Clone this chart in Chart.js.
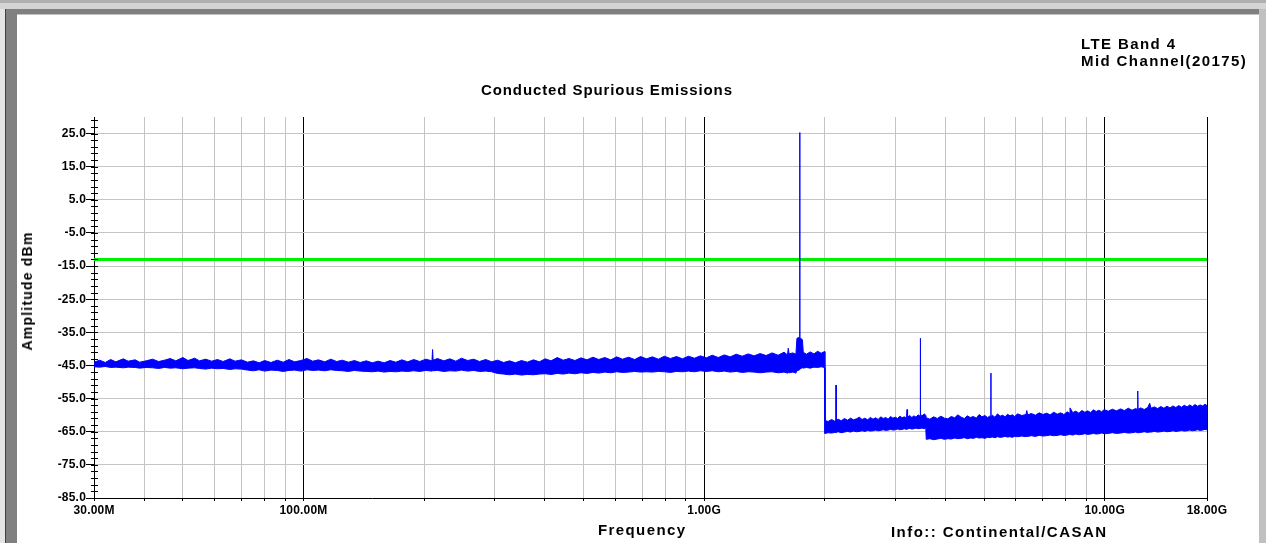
<!DOCTYPE html>
<html>
<head>
<meta charset="utf-8">
<script src="https://cdn.jsdelivr.net/npm/chart.js@4/dist/chart.umd.min.js"></script>
<style>
  html, body { margin: 0; padding: 0; background: #fff; }
  body { width: 1266px; height: 543px; position: relative; overflow: hidden; font-family: "Liberation Sans", Arial, sans-serif; }
  .bar { position: absolute; }
  #chart { position: absolute; left: 0; top: 0; z-index: 2; }
  .txt { position: absolute; z-index: 3; font-weight: bold; font-size: 15px; line-height: 15px; color: #000; white-space: nowrap; }
</style>
</head>
<body>
<!-- window frame -->
<div class="bar" style="left:0;top:0;width:1266px;height:3px;background:#b0b0b0"></div>
<div class="bar" style="left:0;top:3px;width:1266px;height:6px;background:#d4d4d4"></div>
<div class="bar" style="left:0;top:9px;width:1266px;height:5px;background:#808080"></div>
<div class="bar" style="left:0;top:14px;width:1266px;height:1px;background:#c0c0c0"></div>
<div class="bar" style="left:0;top:9px;width:5px;height:534px;background:#e4e4e4"></div>
<div class="bar" style="left:5px;top:9px;width:1px;height:534px;background:#404040"></div>
<div class="bar" style="left:6px;top:9px;width:11px;height:534px;background:#808080"></div>
<div class="bar" style="left:1259px;top:9px;width:7px;height:534px;background:#c0c0c0"></div>

<canvas id="chart" width="1266" height="543"></canvas>

<div class="txt" style="left:1081px;top:35px;line-height:17px;letter-spacing:1.4px">LTE Band 4<br>Mid Channel(20175)</div>
<div class="txt" style="left:481px;top:82px;letter-spacing:0.9px">Conducted Spurious Emissions</div>
<div class="txt" style="left:27px;top:291px;font-size:14px;line-height:14px;letter-spacing:1.2px;transform:translate(-50%,-50%) rotate(-90deg)">Amplitude dBm</div>
<div class="txt" style="left:598px;top:522px;letter-spacing:1.4px">Frequency</div>
<div class="txt" style="left:891px;top:524px;letter-spacing:1.45px">Info:: Continental/CASAN</div>

<script>
// frequency in MHz, amplitude in dBm (upper and lower edge of the noise trace)
const freqMHz = [
  30, 31, 32, 33, 34, 35.5, 36.5, 38, 39, 40.5,
  42, 43.5, 45, 46.5, 48, 50, 51.5, 53.5, 55, 57,
  59, 61, 63, 65.5, 67.5, 70, 72.5, 75, 77.5, 80,
  83, 86, 89, 92, 95, 98.5,
  102, 105.5, 109, 113, 117, 121, 125, 129.5, 134, 138.5,
  143.5, 148.5, 153.5, 159, 164.5, 170, 176, 182, 188.5, 195,
  202, 209.3, 210, 210.7, 216, 224, 232, 240, 248, 257,
  266, 275, 285, 295, 305, 316, 327, 338, 350, 362,
  375, 388, 401, 415, 430, 445, 460, 476, 493, 510,
  528, 546, 565, 585, 605, 626, 648, 671, 694, 718,
  743, 769, 796, 824, 853, 883, 914, 946, 979,
  1013, 1048, 1085, 1123, 1162, 1203, 1245, 1288, 1333, 1380,
  1428, 1478, 1530, 1583, 1615, 1622, 1630, 1665, 1695, 1705,
  1730.5, 1732.5, 1734.5, 1760, 1768, 1800, 1840, 1880, 1920, 1960,
  1997,
  2003, 2040, 2080, 2120, 2133, 2135, 2137, 2160, 2200, 2240,
  2280, 2320, 2360, 2400, 2440, 2480, 2520, 2560, 2600, 2640,
  2680, 2720, 2760, 2800, 2840, 2880, 2920, 2960, 3000, 3040,
  3080, 3120, 3160, 3200, 3210, 3220, 3260, 3300, 3340, 3380,
  3420, 3461, 3465, 3469, 3500, 3540, 3575,
  3585, 3660, 3740, 3820, 3900, 3980, 4060, 4140, 4220, 4300,
  4380, 4460, 4540, 4620, 4700, 4780, 4860, 4940, 5020, 5100,
  5160, 5195, 5198, 5201, 5240, 5320, 5400, 5480, 5560, 5640,
  5720, 5800, 5880, 5960,
  6060, 6210, 6360, 6390, 6420, 6560, 6710, 6860, 7010, 7160,
  7310, 7460, 7610, 7760, 7910, 8060, 8170, 8190, 8320, 8470,
  8620, 8770, 8920, 9070, 9220, 9370, 9520, 9670, 9820, 9970,
  10200, 10450, 10700, 10950, 11200, 11450, 11700, 11950, 12070, 12090,
  12110, 12300, 12550, 12800, 12950, 13050, 13300, 13550, 13800, 14050,
  14300, 14550, 14800, 15050, 15300, 15550, 15800, 16050, 16300, 16550,
  16800, 17050, 17300, 17550, 17800, 18000
];
const peakDbm = [
  -44.0, -43.4, -44.1, -43.2, -43.9, -43.0, -43.7, -43.3, -44.0, -43.6,
  -43.1, -43.8, -43.4, -42.9, -43.6, -42.6, -43.5, -42.8, -43.6, -43.1,
  -43.7, -43.2, -43.8, -43.0, -43.7, -43.3, -44.0, -43.6, -44.2, -43.5,
  -44.1, -43.4, -44.0, -43.2, -43.9, -43.5,
  -42.9, -43.7, -43.3, -43.9, -43.1, -43.8, -43.4, -44.0, -43.5, -44.1,
  -43.6, -44.2, -43.7, -44.2, -43.5, -44.0, -43.3, -43.9, -43.2, -43.8,
  -43.1, -43.6, -40.2, -43.4, -42.9, -43.6, -43.0, -43.7, -42.8, -43.5,
  -43.1, -43.8, -43.2, -43.9, -43.4, -44.1, -43.6, -44.2, -43.5, -44.0,
  -43.3, -43.9, -43.0, -43.6, -42.6, -43.4, -42.9, -43.5, -42.7, -43.3,
  -42.5, -43.2, -42.6, -43.3, -42.4, -43.1, -42.5, -43.2, -42.3, -43.0,
  -42.4, -43.1, -42.2, -42.9, -42.3, -43.0, -42.2, -42.8, -42.1,
  -42.7, -41.9, -42.6, -41.8, -42.4, -41.6, -42.2, -41.5, -42.1, -41.4,
  -42.0, -41.2, -41.9, -41.0, -41.8, -39.8, -41.5, -41.2, -41.6, -36.8,
  -36.5, 25.3, -36.5, -37.3, -41.0, -41.6, -40.9, -41.5, -40.7, -41.3,
  -40.8,
  -61.6, -61.9, -61.3, -61.8, -61.5, -50.9, -61.6, -61.2, -61.7, -61.0,
  -61.5, -60.9, -61.4, -61.1, -60.6, -61.3, -60.9, -61.4, -60.7, -61.2,
  -60.8, -61.3, -60.5, -61.0, -60.7, -61.2, -60.4, -60.9, -60.6, -61.0,
  -60.3, -60.8, -60.5, -60.9, -58.3, -60.6, -60.1, -60.7, -60.2, -60.6,
  -59.9, -60.3, -36.8, -59.7, -60.2, -59.6, -60.0,
  -60.8, -61.2, -60.5, -61.0, -60.3, -60.9, -61.1, -60.4, -60.8, -59.9,
  -60.6, -61.0, -60.2, -60.7, -60.4, -60.9, -59.8, -60.5, -60.1, -60.7,
  -60.3, -60.5, -47.3, -60.4, -60.0, -60.6, -59.6, -60.3, -60.0, -60.5,
  -59.7, -60.2, -59.9, -60.4,
  -59.6, -60.1, -59.8, -58.6, -59.9, -59.5, -60.0, -59.3, -59.8, -59.4,
  -59.9, -59.1, -59.7, -59.3, -59.8, -59.0, -59.4, -57.8, -59.2, -58.8,
  -59.4, -58.6, -59.1, -58.7, -59.2, -58.4, -58.9, -58.5, -59.0, -58.3,
  -58.8, -58.2, -58.7, -58.1, -58.6, -57.9, -58.5, -58.0, -58.3, -52.7,
  -58.2, -57.8, -58.3, -57.7, -56.4, -57.9, -57.5, -58.0, -57.4, -57.9,
  -57.3, -57.8, -57.2, -57.7, -57.1, -57.6, -57.0, -57.5, -56.9, -57.4,
  -56.8, -57.3, -56.9, -57.2, -56.7, -57.1
];
const floorDbm = [
  -45.4, -45.5, -45.3, -45.6, -45.5, -45.7, -45.5, -45.6, -45.8, -45.6,
  -45.7, -45.9, -45.6, -45.8, -45.7, -46.0, -45.8, -45.7, -45.9, -46.1,
  -45.8, -46.0, -45.9, -46.2, -46.0, -46.1, -46.4, -46.6, -46.3, -46.7,
  -46.4, -46.5, -46.8, -46.5, -46.4, -46.7,
  -46.3, -46.5, -46.4, -46.6, -46.3, -46.5, -46.6, -46.8, -46.5, -46.7,
  -46.8, -46.9, -46.7, -47.0, -46.8, -46.9, -46.7, -46.8, -46.6, -46.8,
  -46.5, -46.7, -46.6, -46.6, -46.5, -46.8, -46.6, -46.7, -46.4, -46.7,
  -46.5, -46.8, -46.7, -46.9, -47.4, -47.6, -47.8, -47.6, -47.9, -47.7,
  -47.8, -47.6, -47.5, -47.7, -47.4, -47.6, -47.3, -47.5, -47.2, -47.4,
  -47.1, -47.3, -47.0, -47.2, -46.9, -47.1, -47.0, -46.8, -47.0, -46.9,
  -47.0, -46.8, -46.9, -47.1, -46.8, -46.9, -46.7, -46.9, -46.6,
  -46.8, -46.6, -46.9, -46.7, -47.0, -46.8, -47.1, -46.9, -47.0, -47.2,
  -47.0, -46.9, -47.2, -47.0, -47.3, -47.1, -47.2, -47.0, -47.3, -46.6,
  -46.3, -46.1, -46.0, -45.7, -45.8, -45.6, -45.8, -45.5, -45.6, -45.4,
  -45.6,
  -65.5, -65.3, -65.4, -65.2, -65.3, -65.3, -65.2, -65.0, -65.3, -65.1,
  -64.9, -65.1, -64.8, -65.0, -64.9, -64.7, -64.9, -64.6, -64.8, -64.7,
  -64.5, -64.7, -64.6, -64.4, -64.6, -64.5, -64.3, -64.5, -64.4, -64.2,
  -64.4, -64.3, -64.1, -64.3, -64.2, -64.2, -64.0, -64.2, -64.1, -63.9,
  -64.1, -64.0, -64.0, -64.0, -63.9, -64.1, -63.8,
  -67.3, -67.1, -67.4, -67.2, -67.0, -67.3, -67.1, -67.2, -66.9, -67.1,
  -67.0, -66.8, -67.1, -66.9, -67.0, -66.7, -66.9, -66.8, -67.0, -66.7,
  -66.8, -66.7, -66.7, -66.7, -66.6, -66.8, -66.5, -66.7, -66.6, -66.4,
  -66.6, -66.5, -66.7, -66.4,
  -66.5, -66.3, -66.5, -66.4, -66.4, -66.2, -66.4, -66.1, -66.3, -66.2,
  -66.0, -66.2, -66.1, -65.9, -66.1, -66.0, -65.8, -65.8, -66.0, -65.7,
  -65.9, -65.8, -65.6, -65.8, -65.7, -65.5, -65.7, -65.6, -65.4, -65.6,
  -65.5, -65.3, -65.5, -65.4, -65.2, -65.4, -65.3, -65.1, -65.3, -65.3,
  -65.3, -65.2, -65.0, -65.2, -65.1, -65.1, -64.9, -65.1, -65.0, -64.8,
  -65.0, -64.9, -64.7, -64.9, -64.8, -64.6, -64.8, -64.7, -64.5, -64.7,
  -64.6, -64.4, -64.6, -64.5, -64.3, -64.4
];
const limitFreqMHz = [30, 18000];
const limitDbm = [-13, -13];

const xTickValues = [30, 40, 50, 60, 70, 80, 90, 100, 200, 300, 400, 500, 600, 700, 800, 900,
  1000, 2000, 3000, 4000, 5000, 6000, 7000, 8000, 9000, 10000, 18000];
const xTickLabels = ['30.00M', '', '', '', '', '', '', '100.00M', '', '', '', '', '', '', '', '',
  '1.00G', '', '', '', '', '', '', '', '', '10.00G', '18.00G'];
const xDecadeTicks = [100, 1000, 10000, 18000];

const yTickValues = [-85, -83, -81, -79, -77, -75, -73, -71, -69, -67, -65, -63, -61, -59, -57,
  -55, -53, -51, -49, -47, -45, -43, -41, -39, -37, -35, -33, -31, -29, -27, -25, -23, -21,
  -19, -17, -15, -13, -11, -9, -7, -5, -3, -1, 1, 3, 5, 7, 9, 11, 13, 15, 17, 19, 21, 23, 25, 27, 29];
const yMajorTicks = [-85, -75, -65, -55, -45, -35, -25, -15, -5, 5, 15, 25];
const yTickLabels = ['-85.0', '-75.0', '-65.0', '-55.0', '-45.0', '-35.0', '-25.0', '-15.0', '-5.0', '5.0', '15.0', '25.0'];

const toPoints = (xs, ys) => xs.map((x, i) => ({ x: x, y: ys[i] }));

// tick marks on the inner side of the amplitude axis
const innerTicks = {
  id: 'innerTicks',
  beforeDraw(chart) {
    chart.ctx.letterSpacing = '0.2px';
  },
  afterDraw(chart) {
    const y = chart.scales.y;
    const x0 = chart.chartArea.left;
    const ctx = chart.ctx;
    ctx.save();
    ctx.strokeStyle = '#000';
    ctx.lineWidth = 1;
    ctx.beginPath();
    yTickValues.forEach(v => {
      const py = Math.round(y.getPixelForValue(v)) + 0.5;
      ctx.moveTo(x0 - 3, py);
      ctx.lineTo(x0 + 4, py);
    });
    ctx.stroke();
    ctx.restore();
  }
};

Chart.defaults.font.family = '"Liberation Sans", Arial, sans-serif';
Chart.defaults.font.weight = 'bold';
Chart.defaults.color = '#000';

new Chart(document.getElementById('chart'), {
  type: 'line',
  data: {
    datasets: [
      {
        label: 'peak',
        data: toPoints(freqMHz, peakDbm),
        borderColor: '#0000ff',
        backgroundColor: '#0000ff',
        borderWidth: 1,
        pointRadius: 0,
        fill: '+1'
      },
      {
        label: 'floor',
        data: toPoints(freqMHz, floorDbm),
        borderColor: '#0000ff',
        borderWidth: 1,
        pointRadius: 0,
        fill: false
      },
      {
        label: 'limit',
        data: toPoints(limitFreqMHz, limitDbm),
        borderColor: '#00ee00',
        borderWidth: 3,
        pointRadius: 0,
        fill: false
      }
    ]
  },
  options: {
    responsive: false,
    devicePixelRatio: 1,
    animation: false,
    events: [],
    layout: { padding: { left: 0, right: 59, top: 117, bottom: 0 } },
    plugins: { legend: { display: false }, tooltip: { enabled: false } },
    scales: {
      x: {
        type: 'logarithmic',
        min: 30,
        max: 18000,
        afterBuildTicks: s => { s.ticks = xTickValues.map(v => ({ value: v })); },
        afterFit: s => { s.height = 45; },
        ticks: {
          autoSkip: false,
          maxRotation: 0,
          padding: 2,
          font: { size: 12, weight: 'bold' },
          callback: (v, i) => xTickLabels[i]
        },
        grid: {
          color: c => {
            const v = c.tick ? c.tick.value : 0;
            if (v === 30) return 'rgba(0,0,0,0)';
            return xDecadeTicks.includes(v) ? '#000' : '#c4c4c4';
          },
          tickColor: '#000',
          tickLength: 3
        },
        border: { color: '#000' }
      },
      y: {
        type: 'linear',
        min: -85,
        max: 30,
        afterBuildTicks: s => { s.ticks = yTickValues.map(v => ({ value: v })); },
        afterFit: s => { s.width = 94; },
        ticks: {
          autoSkip: false,
          padding: 0,
          font: { size: 12, weight: 'bold' },
          callback: v => {
            const k = yMajorTicks.indexOf(v);
            return k >= 0 ? yTickLabels[k] : '';
          }
        },
        grid: {
          color: c => {
            const v = c.tick ? c.tick.value : 0;
            return (yMajorTicks.includes(v) && v !== -85) ? '#c4c4c4' : 'rgba(0,0,0,0)';
          },
          tickColor: c => (c.tick && yMajorTicks.includes(c.tick.value)) ? '#000' : 'rgba(0,0,0,0)',
          tickLength: 8
        },
        border: { color: '#000' }
      }
    }
  },
  plugins: [innerTicks]
});
</script>
</body>
</html>
